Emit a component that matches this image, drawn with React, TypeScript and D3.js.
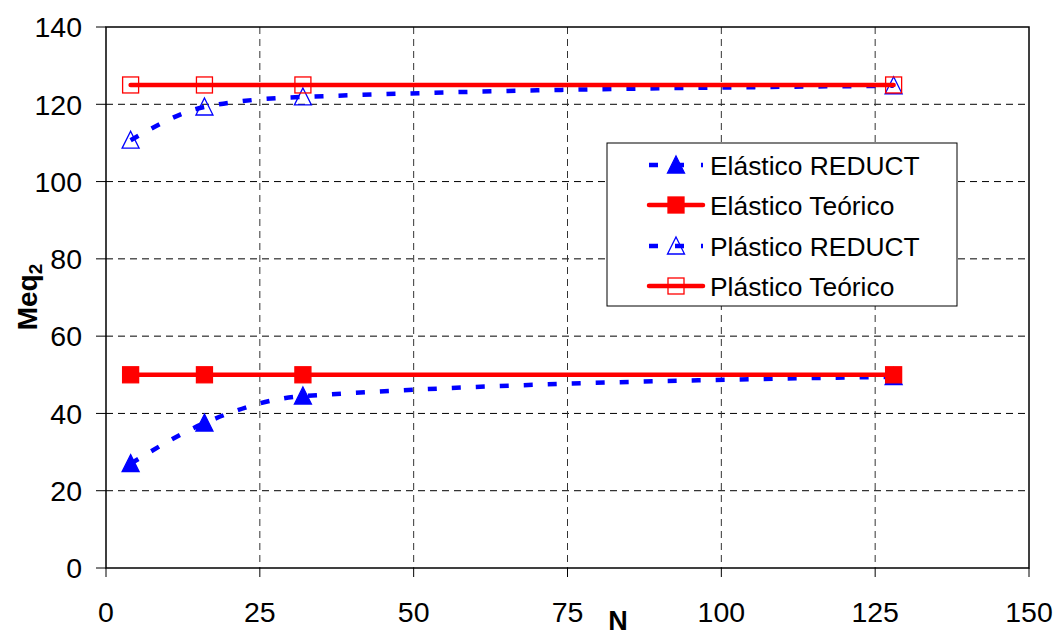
import React from "react";
import * as d3 from "d3";

const N_VALUES = [4, 16, 32, 128];
const ELASTICO_REDUCT = [27, 37.5, 44.5, 49.5];
const ELASTICO_TEORICO = [50, 50, 50, 50];
const PLASTICO_REDUCT = [110.7, 119.3, 121.9, 124.8];
const PLASTICO_TEORICO = [125, 125, 125, 125];
const X_TICKS = [0, 25, 50, 75, 100, 125, 150];
const Y_TICKS = [0, 20, 40, 60, 80, 100, 120, 140];
const LEGEND_LABELS = ["Elástico REDUCT", "Elástico Teórico", "Plástico REDUCT", "Plástico Teórico"];

const W = 1057;
const H = 637;
const FONT = "'Liberation Sans', Arial, Helvetica, sans-serif";
const BLUE = "#0000ff";
const RED = "#ff0000";

type Series = {
  name: string;
  values: number[];
  color: string;
  dashed: boolean;
  marker: "triangle" | "square";
  filled: boolean;
};

const SERIES: Series[] = [
  { name: LEGEND_LABELS[0], values: ELASTICO_REDUCT, color: BLUE, dashed: true, marker: "triangle", filled: true },
  { name: LEGEND_LABELS[1], values: ELASTICO_TEORICO, color: RED, dashed: false, marker: "square", filled: true },
  { name: LEGEND_LABELS[2], values: PLASTICO_REDUCT, color: BLUE, dashed: true, marker: "triangle", filled: false },
  { name: LEGEND_LABELS[3], values: PLASTICO_TEORICO, color: RED, dashed: false, marker: "square", filled: false },
];

function Marker({ s, cx, cy }: { s: Series; cx: number; cy: number }) {
  if (s.marker === "square") {
    const a = 16;
    return (
      <rect
        x={cx - a / 2}
        y={cy - a / 2}
        width={a}
        height={a}
        fill={s.filled ? s.color : "none"}
        stroke={s.color}
        strokeWidth={1.3}
      />
    );
  }
  const w = 17;
  const h = 16;
  const pts = `${cx},${cy - h / 2 - 1} ${cx + w / 2},${cy + h / 2} ${cx - w / 2},${cy + h / 2}`;
  return <polygon points={pts} fill={s.filled ? s.color : "none"} stroke={s.color} strokeWidth={1.3} />;
}

export default function App() {
  const left = 106;
  const right = 1029;
  const top = 27;
  const bottom = 568;

  const x = d3.scaleLinear().domain([0, 150]).range([left, right]);
  const y = d3.scaleLinear().domain([0, 140]).range([bottom, top]);

  const lineGen = (curve: d3.CurveFactory) =>
    d3
      .line<number>()
      .x((_, i) => x(N_VALUES[i]))
      .y((v) => y(v))
      .curve(curve);

  const legendX = 607;
  const legendY = 143;
  const legendW = 350;
  const legendH = 163;
  const rowYs = [165, 205, 246, 286];

  return (
    <svg
      width={W}
      height={H}
      style={{ position: "fixed", left: 0, top: 0, background: "#fff" }}
      fontFamily={FONT}
    >
      <rect x={0} y={0} width={W} height={H} fill="#fff" />

      {/* gridlines */}
      {Y_TICKS.filter((t) => t > 0 && t < 140).map((t) => (
        <line
          key={"gy" + t}
          x1={left}
          x2={right}
          y1={y(t)}
          y2={y(t)}
          stroke="#000"
          strokeWidth={1}
          strokeDasharray="7 5"
        />
      ))}
      {X_TICKS.filter((t) => t > 0 && t < 150).map((t) => (
        <line
          key={"gx" + t}
          x1={x(t)}
          x2={x(t)}
          y1={top}
          y2={bottom}
          stroke="#333"
          strokeWidth={1}
          strokeDasharray="7 5"
        />
      ))}

      {/* plot border */}
      <rect x={left} y={top} width={right - left} height={bottom - top} fill="none" stroke="#000" strokeWidth={1.5} />

      {/* ticks */}
      {Y_TICKS.map((t) => (
        <g key={"ty" + t}>
          <line x1={left - 10} x2={left} y1={y(t)} y2={y(t)} stroke="#000" strokeWidth={1} />
          <text x={82} y={y(t)} dy="0.36em" textAnchor="end" fontSize={28.5} fill="#000">
            {t}
          </text>
        </g>
      ))}
      {X_TICKS.map((t) => (
        <g key={"tx" + t}>
          <line x1={x(t)} x2={x(t)} y1={bottom} y2={bottom + 9} stroke="#000" strokeWidth={1} />
          <text x={x(t)} y={622} textAnchor="middle" fontSize={28.5} fill="#000">
            {t}
          </text>
        </g>
      ))}

      {/* axis titles */}
      <text
        transform={`translate(37,297) rotate(-90)`}
        textAnchor="middle"
        fontSize={28}
        fontWeight="bold"
        fill="#000"
      >
        Meq
        <tspan fontSize={19} dy={5}>
          2
        </tspan>
      </text>
      <text x={618} y={630} textAnchor="middle" fontSize={27} fontWeight="bold" fill="#000">
        N
      </text>

      {/* series */}
      {SERIES.map((s) => (
        <g key={s.name}>
          <path
            d={lineGen(s.dashed ? d3.curveMonotoneX : d3.curveLinear)(s.values) || ""}
            fill="none"
            stroke={s.color}
            strokeWidth={4.5}
            strokeDasharray={s.dashed ? "9 15" : undefined}
            strokeLinecap={s.dashed ? "butt" : "round"}
          />
          {s.values.map((v, i) => (
            <Marker key={i} s={s} cx={x(N_VALUES[i])} cy={y(v)} />
          ))}
        </g>
      ))}

      {/* legend */}
      <rect x={legendX} y={legendY} width={legendW} height={legendH} fill="#fff" stroke="#000" strokeWidth={1} />
      {SERIES.map((s, i) => (
        <g key={"lg" + i}>
          <line
            x1={649}
            x2={703}
            y1={rowYs[i]}
            y2={rowYs[i]}
            stroke={s.color}
            strokeWidth={4.5}
            strokeDasharray={s.dashed ? "9 17" : undefined}
            strokeLinecap={s.dashed ? "butt" : "round"}
          />
          <Marker s={s} cx={676} cy={rowYs[i]} />
          <text x={710} y={rowYs[i]} dy="0.36em" fontSize={26.4} fill="#000">
            {s.name}
          </text>
        </g>
      ))}
    </svg>
  );
}
